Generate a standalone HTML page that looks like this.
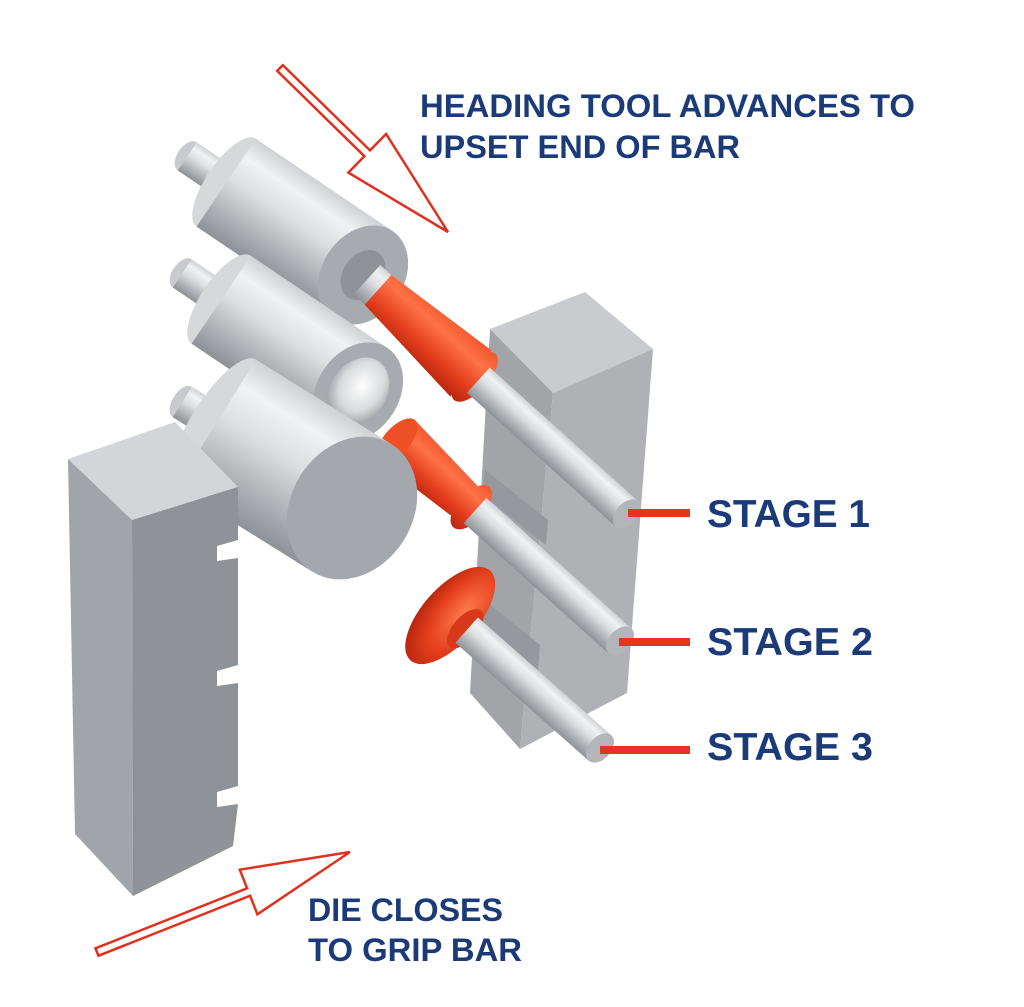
<!DOCTYPE html>
<html><head><meta charset="utf-8"><style>
html,body{margin:0;padding:0;background:#fff;}
svg{display:block}
text{font-family:"Liberation Sans",Arial,sans-serif;font-weight:bold;fill:#1b3a78}
</style></head><body>
<svg width="1024" height="1007" viewBox="0 0 1024 1007" xmlns="http://www.w3.org/2000/svg">
<defs>
<linearGradient id="cyl" x1="0" y1="0" x2="0" y2="1">
<stop offset="0" stop-color="#cfd1d4"/><stop offset="0.2" stop-color="#f1f2f3"/><stop offset="0.45" stop-color="#dcdee0"/><stop offset="0.8" stop-color="#a9acb0"/><stop offset="1" stop-color="#8e9196"/>
</linearGradient>
<linearGradient id="red" x1="0" y1="0" x2="0" y2="1">
<stop offset="0" stop-color="#f2582f"/><stop offset="0.3" stop-color="#ff7246"/><stop offset="0.7" stop-color="#e23d1c"/><stop offset="1" stop-color="#b9260f"/>
</linearGradient>
<radialGradient id="hole" cx="0.5" cy="0.4" r="0.6">
<stop offset="0" stop-color="#ffffff"/><stop offset="0.6" stop-color="#d9dadc"/><stop offset="1" stop-color="#9a9da1"/>
</radialGradient>
<radialGradient id="mush" cx="0.65" cy="0.4" r="0.7">
<stop offset="0" stop-color="#ff7a4d"/><stop offset="0.6" stop-color="#e23d1c"/><stop offset="1" stop-color="#b3230d"/>
</radialGradient>
</defs>
<rect width="1024" height="1007" fill="#fff"/>

<!-- Right die block -->
<polygon points="490,329 585,292 653,349 553,393" fill="#c9cbce"/>
<polygon points="490,329 553,393 520,749 470,693" fill="#a2a4a8"/>
<polygon points="553,393 653,349 627,693 520,749" fill="#afb1b5"/>
<polygon points="485,470 548,520 546,545 483,495" fill="#96989d"/>
<polygon points="478,595 540,645 538,670 476,620" fill="#96989d"/>

<!-- Stage 1 body -->
<g transform="translate(363,275) rotate(34)">
<ellipse cx="-212" cy="0" rx="10" ry="17" fill="#c8cacd"/>
<rect x="-212" y="-17" width="50" height="34" fill="url(#cyl)"/>
<ellipse cx="-165" cy="0" rx="20" ry="53" fill="#d6d8da"/>
<rect x="-165" y="-53" width="165" height="106" fill="url(#cyl)"/>
<ellipse cx="0" cy="0" rx="41" ry="53" fill="#a7aaae"/>
<ellipse cx="0" cy="0" rx="20" ry="27" fill="#8f9297"/>
</g>
<g transform="translate(627,514) rotate(42)">
<rect x="-350" y="-20" width="20" height="40" fill="url(#cyl)"/>
<polygon points="-335,-20 -210,-31 -210,31 -335,20" fill="url(#red)"/>
<ellipse cx="-205" cy="0" rx="14" ry="31" fill="url(#red)"/>
<rect x="-200" y="-17" width="200" height="34" fill="url(#cyl)"/>
<ellipse cx="0" cy="0" rx="11" ry="17" fill="#b3b5b9"/>
</g>

<!-- Stage 2 body -->
<g transform="translate(358,392) rotate(34)">
<ellipse cx="-212" cy="0" rx="10" ry="17" fill="#c8cacd"/>
<rect x="-212" y="-17" width="50" height="34" fill="url(#cyl)"/>
<ellipse cx="-165" cy="0" rx="20" ry="53" fill="#d6d8da"/>
<rect x="-165" y="-53" width="165" height="106" fill="url(#cyl)"/>
<ellipse cx="0" cy="0" rx="41" ry="53" fill="#a7aaae"/>
<ellipse cx="0" cy="0" rx="28" ry="37" fill="url(#hole)"/>
</g>
<g transform="translate(620,641) rotate(42)">
<polygon points="-300,-27 -210,-20 -210,20 -300,27" fill="url(#red)"/>
<ellipse cx="-300" cy="0" rx="13" ry="27" fill="#ee4f25"/>
<ellipse cx="-200" cy="0" rx="14" ry="27" fill="url(#red)"/>
<rect x="-195" y="-17" width="195" height="34" fill="url(#cyl)"/>
<ellipse cx="0" cy="0" rx="11" ry="17" fill="#b3b5b9"/>
</g>

<!-- Stage 3 body -->
<g transform="translate(352,508) rotate(32)">
<ellipse cx="-200" cy="0" rx="10" ry="18" fill="#c8cacd"/>
<rect x="-200" y="-18" width="45" height="36" fill="url(#cyl)"/>
<ellipse cx="-160" cy="0" rx="25" ry="75" fill="#d6d8da"/>
<rect x="-160" y="-75" width="160" height="150" fill="url(#cyl)"/>
<ellipse cx="0" cy="0" rx="61" ry="75" fill="#a4a7ab"/>
</g>
<g transform="translate(600,748) rotate(41.5)">
<ellipse cx="-200" cy="0" rx="28" ry="60" fill="url(#mush)"/>
<ellipse cx="-180" cy="0" rx="12" ry="24" fill="#d8391a"/>
<rect x="-178" y="-17" width="178" height="34" fill="url(#cyl)"/>
<ellipse cx="0" cy="0" rx="11" ry="17" fill="#b3b5b9"/>
</g>

<!-- Left die block -->
<polygon points="68,459 175,422 238,487 132,520" fill="#d3d5d8"/>
<polygon points="68,459 132,520 133,896 75,834" fill="#a1a4a9"/>
<polygon points="132,520 238,487 238,540 217,546 217,561 238,558 238,665 217,671 217,686 238,683 238,786 217,792 217,807 238,804 233,846 133,896" fill="#8f9297"/>

<!-- Arrows -->
<polygon points="282.8,65.1 370,150.4 386.1,134 448,232 348.3,172.6 364.4,156.2 277.2,70.9" fill="#fff" stroke="#e0301e" stroke-width="2.5" stroke-linejoin="miter"/>
<polygon points="95.5,948.3 247.1,888.3 239.8,869.7 350,852 257.4,914.3 250.1,895.7 98.5,955.7" fill="#fff" stroke="#e0301e" stroke-width="2.5"/>

<!-- Stage lines -->
<rect x="628" y="509" width="62" height="8" fill="#e63325"/>
<rect x="619" y="638" width="71" height="8" fill="#e63325"/>
<rect x="600" y="746" width="90" height="8" fill="#e63325"/>

<!-- Text -->
<text x="420" y="117" font-size="32" textLength="495" lengthAdjust="spacingAndGlyphs">HEADING TOOL ADVANCES TO</text>
<text x="420" y="158" font-size="32" textLength="320" lengthAdjust="spacingAndGlyphs">UPSET END OF BAR</text>
<text x="707" y="527" font-size="39" textLength="163" lengthAdjust="spacingAndGlyphs">STAGE 1</text>
<text x="707" y="655" font-size="39" textLength="166" lengthAdjust="spacingAndGlyphs">STAGE 2</text>
<text x="707" y="760" font-size="39" textLength="166" lengthAdjust="spacingAndGlyphs">STAGE 3</text>
<text x="308" y="921" font-size="32" textLength="195" lengthAdjust="spacingAndGlyphs">DIE CLOSES</text>
<text x="308" y="961" font-size="32" textLength="214" lengthAdjust="spacingAndGlyphs">TO GRIP BAR</text>
</svg>
</body></html>
